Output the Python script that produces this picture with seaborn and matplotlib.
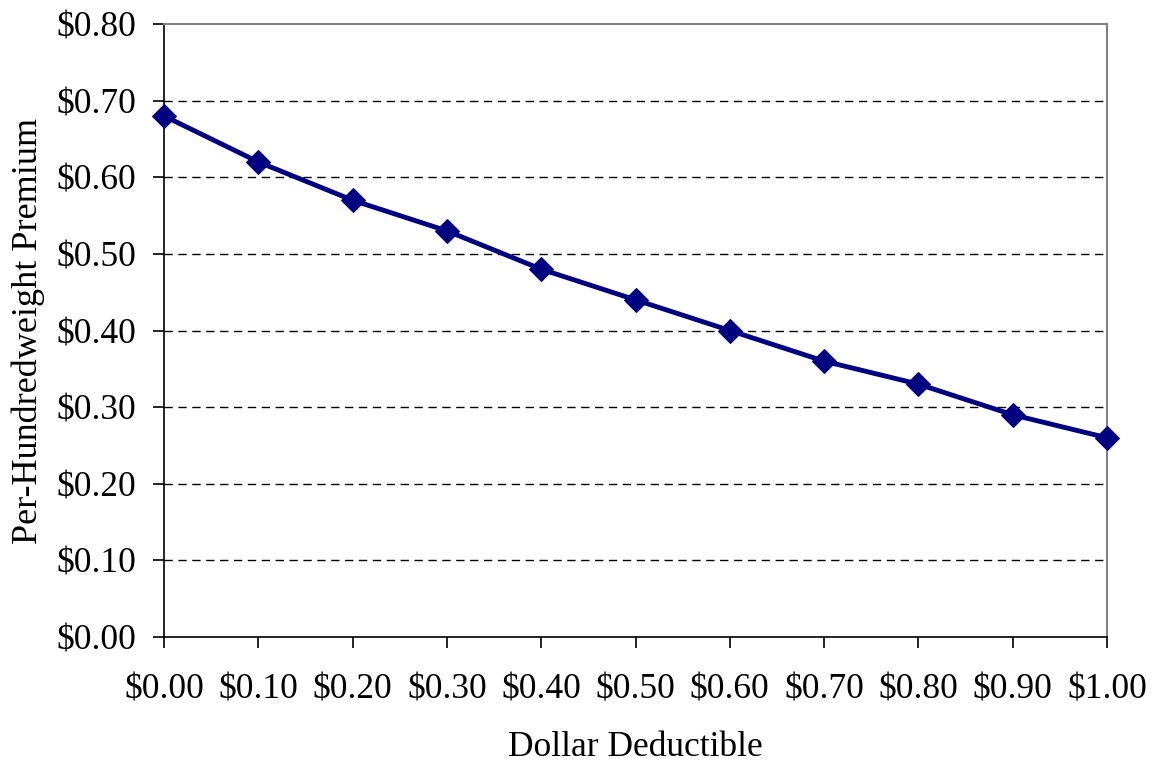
import matplotlib
matplotlib.use("Agg")
import matplotlib.pyplot as plt
import seaborn as sns
import pandas as pd

deductible = [0.0, 0.1, 0.2, 0.3, 0.4, 0.5, 0.6, 0.7, 0.8, 0.9, 1.0]
premium = [0.68, 0.62, 0.57, 0.53, 0.48, 0.44, 0.40, 0.36, 0.33, 0.29, 0.26]
x_labels = ["$0.00", "$0.10", "$0.20", "$0.30", "$0.40", "$0.50",
            "$0.60", "$0.70", "$0.80", "$0.90", "$1.00"]
y_ticks = [0.0, 0.1, 0.2, 0.3, 0.4, 0.5, 0.6, 0.7, 0.8]

sns.set_style("white")
plt.rcParams['font.family'] = ['Liberation Serif', 'DejaVu Serif']
plt.rcParams['text.color'] = 'black'
plt.rcParams['axes.labelcolor'] = 'black'
plt.rcParams['xtick.color'] = 'black'
plt.rcParams['ytick.color'] = 'black'

df = pd.DataFrame({"Dollar Deductible": deductible, "Premium": premium})

fig = plt.figure(figsize=(11.53, 7.62), dpi=100)
ax = fig.add_axes([164/1153, 1 - 637/762, (1107-164)/1153, (637-24)/762])

sns.lineplot(data=df, x="Dollar Deductible", y="Premium", ax=ax,
             color="#000080", linewidth=3.5, marker="D", markersize=12,
             markeredgecolor="#000080", clip_on=False, zorder=5)

ax.set_xlim(0, 1.0)
ax.set_ylim(0, 0.8)
ax.set_xticks(deductible)
ax.set_xticklabels(x_labels)
ax.set_yticks(y_ticks)
ax.set_yticklabels([f"${v:.2f}" for v in y_ticks])

for v in y_ticks[1:-1]:
    ax.axhline(v, color="black", linestyle=(0, (6, 4)), linewidth=1, zorder=0)

for side in ["left", "bottom"]:
    ax.spines[side].set_color("black")
    ax.spines[side].set_linewidth(1.2)
for side in ["top", "right"]:
    ax.spines[side].set_color("#808080")
    ax.spines[side].set_linewidth(1.5)

ax.tick_params(axis="x", direction="out", length=8, width=1.2, labelsize=25.5,
               pad=18, bottom=True, labelcolor="black")
ax.tick_params(axis="y", direction="out", length=8, width=1.2, labelsize=25.5,
               pad=12, left=True, labelcolor="black")
ax.set_xlabel("Dollar Deductible", fontsize=25.5, labelpad=18, color="black")
ax.set_ylabel("Per-Hundredweight Premium", fontsize=26, labelpad=8, color="black")

fig.savefig("out.png", dpi=100)
